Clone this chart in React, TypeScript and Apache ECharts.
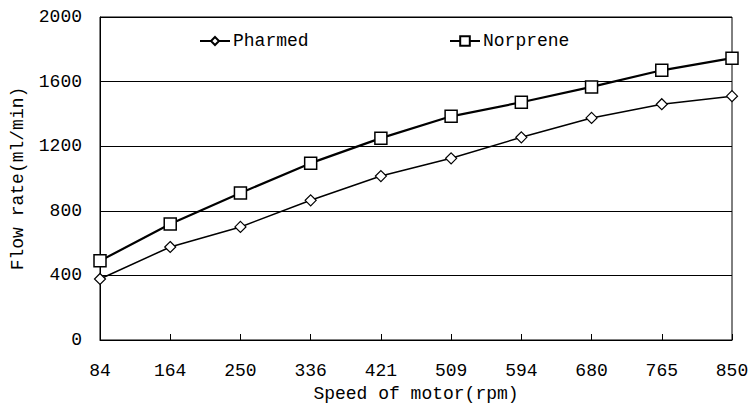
import React, { useEffect, useRef } from "react";
import * as echarts from "echarts";

const categories = ["84", "164", "250", "336", "421", "509", "594", "680", "765", "850"];
const pharmed = [378, 576, 700, 865, 1015, 1125, 1255, 1375, 1460, 1510];
const norprene = [490, 718, 910, 1095, 1250, 1385, 1472, 1567, 1670, 1745];

const FONT = "Liberation Mono";

export default function App() {
  const ref = useRef<HTMLDivElement>(null);
  useEffect(() => {
    if (!ref.current) return;
    const chart = echarts.init(ref.current, null, { renderer: "svg" });
    chart.setOption({
      animation: false,
      backgroundColor: "#fff",
      textStyle: { fontFamily: FONT, color: "#000" },
      grid: {
        left: 100,
        right: 18,
        top: 17,
        bottom: 67,
        containLabel: false,
        outerBoundsMode: "none",
        show: true,
        borderColor: "#000",
        borderWidth: 1,
      },
      legend: [
        {
          data: ["Pharmed"],
          left: 194,
          top: 27,
          itemWidth: 30,
          itemHeight: 10,
          itemGap: 4,
          textStyle: { fontFamily: FONT, fontSize: 18, color: "#000", padding: [0, 0, 0, -2] },
        },
        {
          data: ["Norprene"],
          left: 444,
          top: 27,
          itemWidth: 30,
          itemHeight: 12,
          textStyle: { fontFamily: FONT, fontSize: 18, color: "#000", padding: [0, 0, 0, -2] },
        },
      ],
      xAxis: {
        type: "category",
        data: categories,
        boundaryGap: false,
        name: "Speed of motor(rpm)",
        nameLocation: "middle",
        nameGap: 44,
        nameTextStyle: { fontFamily: FONT, fontSize: 18, color: "#000" },
        axisLine: { lineStyle: { color: "#000", width: 1 } },
        axisTick: { inside: true, length: 6, lineStyle: { color: "#000" } },
        axisLabel: { fontFamily: FONT, fontSize: 18, color: "#000", margin: 22 },
        splitLine: { show: false },
      },
      yAxis: {
        type: "value",
        min: 0,
        max: 2000,
        interval: 400,
        name: "Flow rate(ml/min)",
        nameLocation: "middle",
        nameGap: 73,
        nameTextStyle: { fontFamily: FONT, fontSize: 18, color: "#000" },
        axisLine: { show: true, lineStyle: { color: "#000", width: 1 } },
        axisTick: { show: false },
        axisLabel: { fontFamily: FONT, fontSize: 18, color: "#000", margin: 18, formatter: (v: number) => String(v) },
        splitLine: { show: true, lineStyle: { color: "#000", width: 1 } },
      },
      series: [
        {
          name: "Pharmed",
          type: "line",
          data: pharmed,
          symbol: "diamond",
          symbolSize: 11,
          showAllSymbol: true,
          lineStyle: { color: "#000", width: 1.5 },
          itemStyle: { color: "#fff", borderColor: "#000", borderWidth: 1.2 },
          z: 3,
        },
        {
          name: "Norprene",
          type: "line",
          data: norprene,
          symbol: "rect",
          symbolSize: 12,
          showAllSymbol: true,
          lineStyle: { color: "#000", width: 2.2 },
          itemStyle: { color: "#fff", borderColor: "#000", borderWidth: 1.5 },
          z: 4,
        },
      ],
    });
    return () => chart.dispose();
  }, []);
  return <div ref={ref} style={{ width: 750, height: 407, position: "absolute", left: 0, top: 0 }} />;
}
